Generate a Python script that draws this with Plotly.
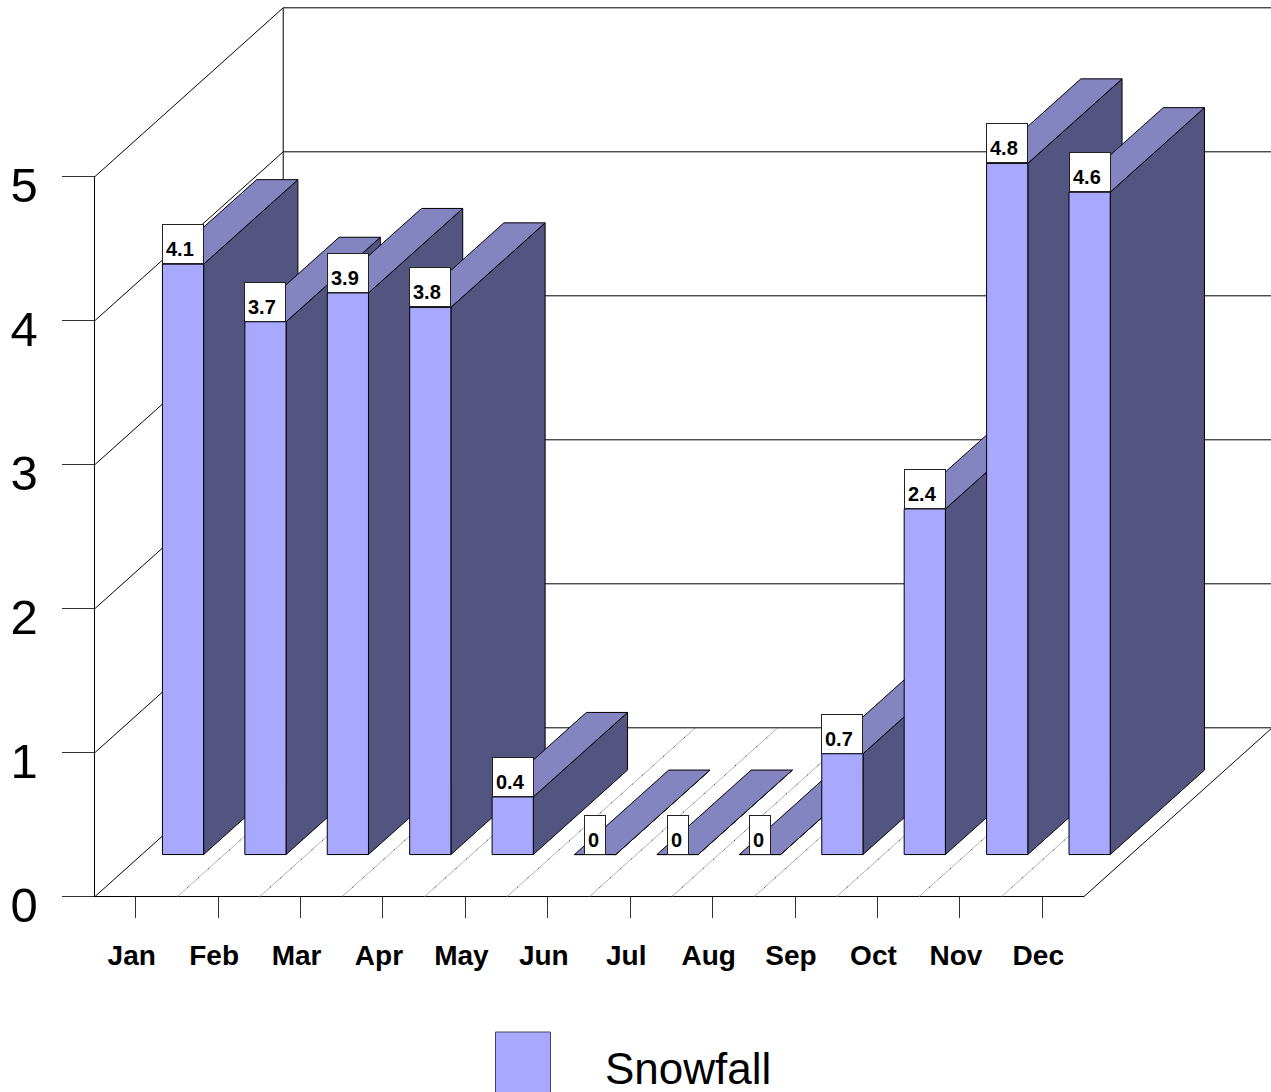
import plotly.graph_objects as go

months = ["Jan", "Feb", "Mar", "Apr", "May", "Jun", "Jul", "Aug", "Sep", "Oct", "Nov", "Dec"]
snowfall = [4.1, 3.7, 3.9, 3.8, 0.4, 0, 0, 0, 0.7, 2.4, 4.8, 4.6]
value_ticks = [0, 1, 2, 3, 4, 5]
series_name = "Snowfall"

W, H = 1271, 1092
X0, X1, Y0, Y5 = 94, 1083, 896, 176
CAT = (X1 - X0) / 12
UNIT = (Y0 - Y5) / 5
DEPTH_X = 188.5 / CAT
DEPTH_Y = 169 / UNIT
FRONT_COL, TOP_COL, SIDE_COL = "#A8A8FF", "#8484C0", "#545480"
SANS = "Liberation Sans"


def proj(x, y, d):
    return x + DEPTH_X * d, y + DEPTH_Y * d


fig = go.Figure()


def line(points, color="black", width=1, dash="solid"):
    fig.add_trace(go.Scatter(x=[p[0] for p in points], y=[p[1] for p in points], mode="lines",
                             line=dict(color=color, width=width, dash=dash), xaxis="x2", yaxis="y2",
                             hoverinfo="skip", showlegend=False))


def poly(points, fill, name, text):
    xs = [p[0] for p in points] + [points[0][0]]
    ys = [p[1] for p in points] + [points[0][1]]
    fig.add_trace(go.Scatter(x=xs, y=ys, mode="lines", fill="toself", fillcolor=fill,
                             line=dict(color="black", width=1), xaxis="x2", yaxis="y2",
                             name=name, text=text, hoverinfo="text", showlegend=False))


# carrier for the visible axes
fig.add_trace(go.Scatter(x=[None], y=[None], xaxis="x", yaxis="y", showlegend=False, hoverinfo="skip"))

# walls and floor
n = len(months)
right_limit = (W - X0) / CAT
for v in value_ticks:
    line([proj(0, v, 0), proj(0, v, 1), (right_limit, proj(0, v, 1)[1])])
line([proj(0, 0, 1), proj(0, value_ticks[-1], 1)])
line([proj(n, 0, 0), proj(n, 0, 1)])
for i in range(1, n):
    line([proj(i, 0, 0), proj(i, 0, 1)], color="#b4b4b4", width=1)
    line([proj(i, 0, 0), proj(i, 0, 1)], color="#222222", width=1, dash="1px,13px")

# bars, left to right so each one covers its left neighbour
annotations = []
for i, (m, v) in enumerate(zip(months, snowfall)):
    a, b = i + 0.25, i + 0.75
    label = f"{m}: {v}"
    poly([proj(b, 0, .25), proj(b, 0, .75), proj(b, v, .75), proj(b, v, .25)], SIDE_COL, m + " side", label)
    poly([proj(a, v, .25), proj(b, v, .25), proj(b, v, .75), proj(a, v, .75)], TOP_COL, m + " top", label)
    poly([proj(a, 0, .25), proj(b, 0, .25), proj(b, v, .25), proj(a, v, .25)], FRONT_COL, m, label)

for i, v in enumerate(snowfall):
    cx, cy = proj(i + 0.5, v, .25)
    text = f"{v:g}"
    annotations.append(dict(x=cx, y=cy, xref="x2", yref="y2", text=f"<b>{text}</b>", showarrow=False,
                            xanchor="center", yanchor="bottom", width=34 if len(text) > 1 else 14, height=32,
                            align="left", valign="bottom",
                            bgcolor="white", bordercolor="#222222", borderwidth=1, borderpad=3,
                            font=dict(family=SANS, size=20, color="black")))

annotations.append(dict(x=604 / W, y=(H - 1094) / H, xref="paper", yref="paper", text=series_name,
                        showarrow=False, xanchor="left", yanchor="bottom", borderpad=0,
                        font=dict(family=SANS, size=44, color="black")))

fig.update_layout(
    template="none",
    width=W, height=H, margin=dict(l=0, r=0, t=0, b=0, pad=0), autosize=False,
    paper_bgcolor="white", plot_bgcolor="rgba(0,0,0,0)", showlegend=False,
    annotations=annotations,
    shapes=[dict(type="rect", xref="paper", yref="paper", x0=495.5 / W, x1=550.5 / W,
                 y0=-0.01, y1=(H - 1032) / H, fillcolor=FRONT_COL, line=dict(color="#444466", width=1))],
    xaxis=dict(domain=[(X0 + 0.5) / W, (X1 + 0.5) / W], range=[0, n], anchor="y", showgrid=False, zeroline=False,
               automargin=False, tickmode="array", tickvals=[i + 0.5 for i in range(n)], ticktext=months,
               ticks="outside", ticklen=21, tickcolor="#333333", tickwidth=1,
               showline=True, linecolor="black", linewidth=1, ticklabelshift=-4, ticklabelstandoff=13,
               tickfont=dict(family=SANS, size=28, color="black", weight=700)),
    yaxis=dict(domain=[(H - Y0) / H, (H - Y5) / H], range=[0, value_ticks[-1]], anchor="x",
               automargin=False, showgrid=False, zeroline=False, tickmode="array", tickvals=value_ticks,
               ticks="outside", ticklen=32, tickcolor="#333333", tickwidth=1,
               showline=True, linecolor="black", linewidth=1, ticklabelshift=9, ticklabelstandoff=14,
               tickfont=dict(family=SANS, size=49, color="black")),
    # the drawing axes span the canvas at the same scale as the visible axes, nudged by a pixel
    xaxis2=dict(domain=[0, 1], range=[-(X0 + 0.7) / CAT, (W - X0 - 0.7) / CAT], anchor="y2", visible=False,
                automargin=False),
    yaxis2=dict(domain=[0, 1], range=[-(H - Y0 - 0.8) / UNIT, (Y0 + 0.8) / UNIT], anchor="x2", visible=False,
                automargin=False),
)

fig.write_html("out.html", config=dict(displayModeBar=False), post_script="document.body.style.margin='0';")
